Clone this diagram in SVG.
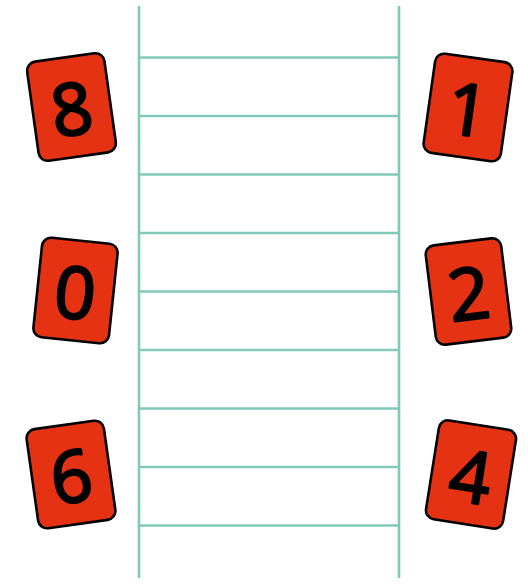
<svg xmlns="http://www.w3.org/2000/svg" width="528" height="587" viewBox="0 0 528 587">
<style>
.rail{stroke:#82c9b9;stroke-width:2.6;fill:none;stroke-linecap:round}
.card{fill:#e43213;stroke:#000;stroke-width:2.6}
.num{font-family:"Open Sans","DejaVu Sans",sans-serif;font-size:72px;fill:#000;stroke:#000;stroke-width:2.4;stroke-linejoin:round;text-anchor:middle;dominant-baseline:central}
</style>
<rect width="528" height="587" fill="#fff"/>
<g id="ladder">
<line class="rail" x1="139" y1="7" x2="139" y2="577"/>
<line class="rail" x1="399" y1="7" x2="399" y2="577"/>
<line class="rail" x1="139" y1="57.5" x2="399" y2="57.5"/>
<line class="rail" x1="139" y1="116" x2="399" y2="116"/>
<line class="rail" x1="139" y1="174.5" x2="399" y2="174.5"/>
<line class="rail" x1="139" y1="233" x2="399" y2="233"/>
<line class="rail" x1="139" y1="291.5" x2="399" y2="291.5"/>
<line class="rail" x1="139" y1="350" x2="399" y2="350"/>
<line class="rail" x1="139" y1="408.5" x2="399" y2="408.5"/>
<line class="rail" x1="139" y1="467" x2="399" y2="467"/>
<line class="rail" x1="139" y1="525.5" x2="399" y2="525.5"/>
</g>
<g id="card8" transform="translate(71.5,107) rotate(-8)">
<rect class="card" x="-39" y="-50" width="78" height="100" rx="9"/>
<text class="num" x="0" y="0">8</text>
</g>
<g id="card1" transform="translate(468,107.5) rotate(8)">
<rect class="card" x="-39" y="-50" width="78" height="100" rx="9"/>
<text class="num" x="0" y="0">1</text>
</g>
<g id="card0" transform="translate(75.5,290.5) rotate(6)">
<rect class="card" x="-38" y="-50" width="76" height="100" rx="9"/>
<text class="num" x="0" y="0">0</text>
</g>
<g id="card2" transform="translate(468.5,291.5) rotate(-7)">
<rect class="card" x="-38" y="-50" width="76" height="100" rx="9"/>
<text class="num" x="0" y="0">2</text>
</g>
<g id="card6" transform="translate(71,474.5) rotate(-8)">
<rect class="card" x="-39" y="-50" width="78" height="100" rx="9"/>
<text class="num" x="0" y="0">6</text>
</g>
<g id="card4" transform="translate(471,474.5) rotate(9)">
<rect class="card" x="-39" y="-50" width="78" height="100" rx="9"/>
<text class="num" x="0" y="0">4</text>
</g>
</svg>
